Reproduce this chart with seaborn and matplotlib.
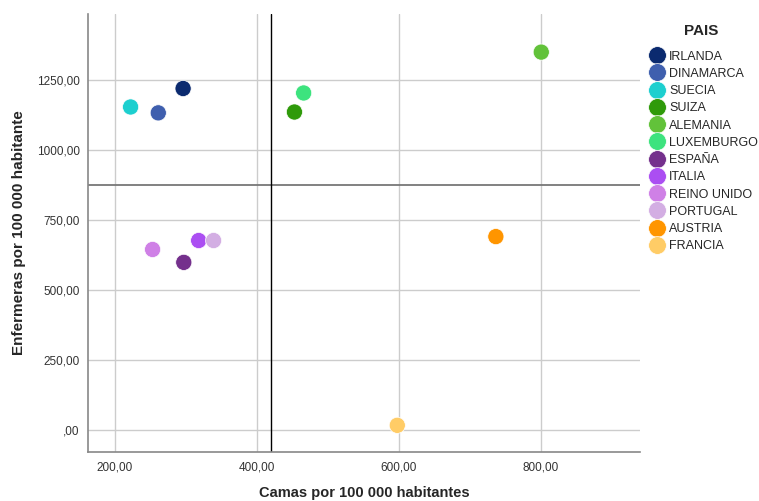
import numpy as np
import pandas as pd
import matplotlib
matplotlib.use("Agg")
import matplotlib.pyplot as plt
import seaborn as sns
from matplotlib.ticker import FuncFormatter

# datos
paises = ["IRLANDA", "DINAMARCA", "SUECIA", "SUIZA", "ALEMANIA", "LUXEMBURGO",
          "ESPAÑA", "ITALIA", "REINO UNIDO", "PORTUGAL", "AUSTRIA", "FRANCIA"]
camas = [296, 261, 222, 453, 801, 466, 297, 318, 253, 339, 737, 598]
enfermeras = [1220, 1133, 1154, 1136, 1350, 1204, 599, 677, 645, 677, 691, 17]
colores = ["#0b2a6f", "#3f5fae", "#1dcfcf", "#2f9a0a", "#62c23a", "#3de37e",
           "#74308c", "#ab4ef2", "#cf80e6", "#d3aee3", "#ff9500", "#ffcc66"]
media_camas = 420
media_enfermeras = 876

table = pd.DataFrame({"PAIS": paises, "camas": camas, "enfermeras": enfermeras})

sns.set_style("white")
plt.rcParams['font.family'] = ['Liberation Sans', 'DejaVu Sans']

fig = plt.figure(figsize=(7.59, 5.01), dpi=100)
ax = fig.add_axes([0.116, 0.098, 0.727, 0.874])

ax.axhline(media_enfermeras, color="#777777", lw=1.3, zorder=1)
ax.axvline(media_camas, color="black", lw=1.0, zorder=1)

sns.scatterplot(data=table, x="camas", y="enfermeras", hue="PAIS",
                palette=dict(zip(paises, colores)), hue_order=paises,
                s=135, edgecolor="white", linewidth=0.5, ax=ax, zorder=3)

ax.set_xlim(162, 940)
ax.set_ylim(-78, 1486)
ax.set_xticks([200, 400, 600, 800])
ax.set_yticks([0, 250, 500, 750, 1000, 1250])

def coma(v, pos):
    s = f"{v:.2f}".replace(".", ",")
    return s[1:] if s.startswith("0") else s

ax.xaxis.set_major_formatter(FuncFormatter(coma))
ax.yaxis.set_major_formatter(FuncFormatter(coma))
ax.tick_params(axis="both", labelsize=8.5, colors="#333333", length=0)
ax.tick_params(axis="x", pad=7)
ax.tick_params(axis="y", pad=6)
ax.grid(True, color="#cccccc", lw=1.0)
ax.set_axisbelow(True)
for s in ["top", "right"]:
    ax.spines[s].set_visible(False)
for s in ["left", "bottom"]:
    ax.spines[s].set_color("#888888")
    ax.spines[s].set_linewidth(1.2)

ax.set_xlabel("Camas por 100 000 habitantes", fontsize=10.5, fontweight="bold", labelpad=9)
ax.set_ylabel("Enfermeras por 100 000 habitante", fontsize=11, fontweight="bold", labelpad=8)

leg = ax.legend(title="PAIS", loc="upper left", bbox_to_anchor=(0.99, 1.0),
                frameon=False, fontsize=9, title_fontproperties={"weight": "bold", "size": 11},
                handletextpad=0.0, labelspacing=0.42, markerscale=1.1, borderpad=0.3)
leg._legend_box.sep = 9

plt.savefig("out.png", dpi=100)
